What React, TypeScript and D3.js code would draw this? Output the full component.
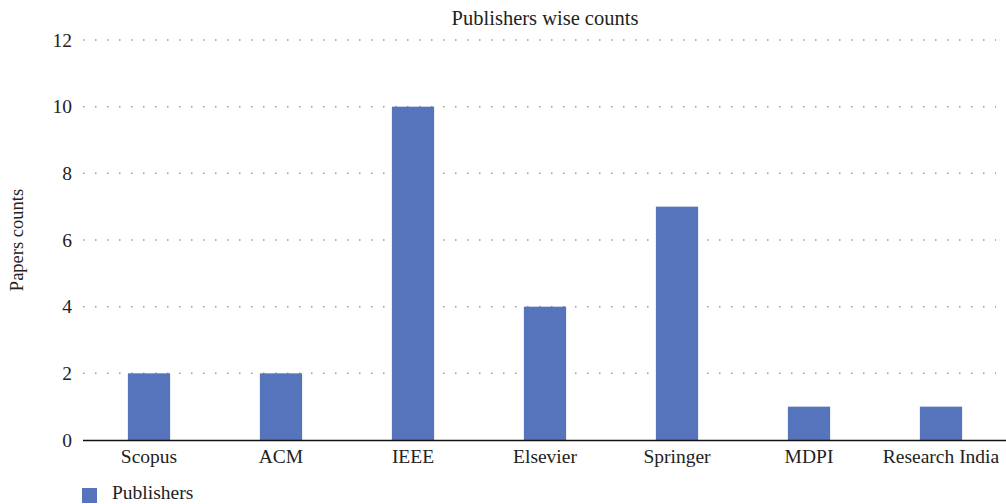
import React from "react";
import * as d3 from "d3";

const categories = ["Scopus", "ACM", "IEEE", "Elsevier", "Springer", "MDPI", "Research India"];
const counts = [2, 2, 10, 4, 7, 1, 1];
const yTicks = [0, 2, 4, 6, 8, 10, 12];
const title = "Publishers wise counts";
const yLabel = "Papers counts";
const seriesName = "Publishers";

export default function App() {
  const W = 1006, H = 504;
  const left = 83, right = 1007, top = 40, bottom = 440;
  const x = d3.scaleBand<string>().domain(categories).range([left, right]).paddingInner(0.68).paddingOuter(0.34);
  const y = d3.scaleLinear().domain([0, 12]).range([bottom, top]);
  const font = "'Liberation Serif', 'Times New Roman', serif";
  const color = "#5574bc";
  const fs = 19.5;
  return (
    <svg width={W} height={H} style={{ position: "absolute", left: 0, top: 0 }} fontFamily={font}>
      <rect width={W} height={H} fill="#fff" />
      <text x={545} y={25} textAnchor="middle" fontSize={20.5} fill="#222">{title}</text>
      {yTicks.map((t) => (
        <g key={t}>
          {t > 0 && (
            <line x1={left} x2={996} y1={y(t)} y2={y(t)} stroke="#9a9a9a" strokeWidth={1.5} strokeDasharray="1.5 10.5" />
          )}
          <text x={72} y={y(t) + 6.5} textAnchor="end" fontSize={fs} fill="#222">{t}</text>
        </g>
      ))}
      {categories.map((c, i) => (
        <rect key={c} x={x(c)!} y={y(counts[i])} width={x.bandwidth()} height={bottom - y(counts[i])} fill={color} />
      ))}
      <line x1={left} x2={W} y1={bottom + 0.5} y2={bottom + 0.5} stroke="#111" strokeWidth={1.5} />
      {categories.map((c) => (
        <text key={c} x={x(c)! + x.bandwidth() / 2} y={463} textAnchor="middle" fontSize={fs} fill="#222">{c}</text>
      ))}
      <text transform={`translate(23,${(top + bottom) / 2}) rotate(-90)`} textAnchor="middle" fontSize={fs - 1} fill="#222">{yLabel}</text>
      <rect x={82} y={488} width={15} height={15} fill={color} />
      <text x={112} y={499} fontSize={fs} fill="#222">{seriesName}</text>
    </svg>
  );
}
